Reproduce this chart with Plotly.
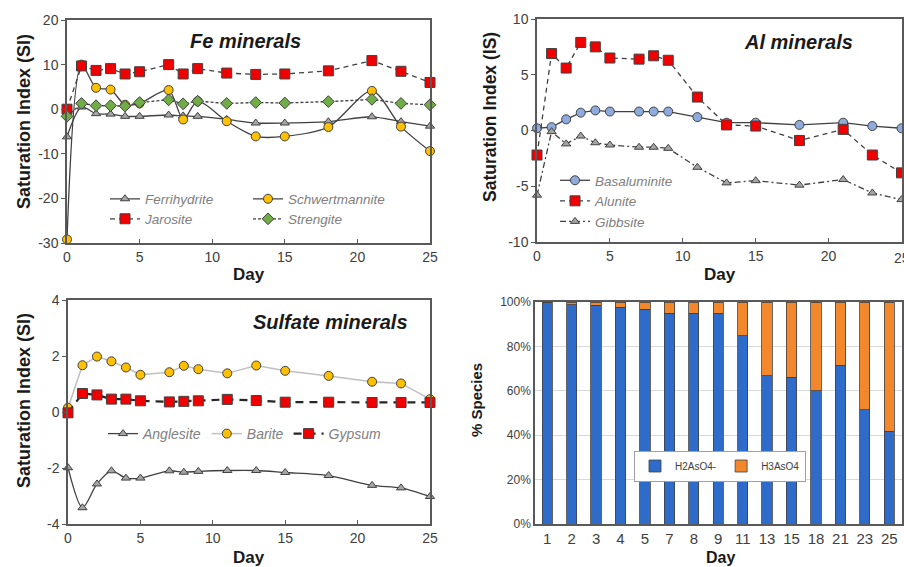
import plotly.graph_objects as go

# ---------------- data ----------------
days = [0, 1, 2, 3, 4, 5, 7, 8, 9, 11, 13, 15, 18, 21, 23, 25]

# Fe minerals
ferrihydrite = [-6.2, 0.5, -1.0, -1.1, -1.6, -1.6, -1.3, -1.5, -1.6, -2.3, -3.1, -3.1, -2.8, -1.7, -2.8, -3.8]
schwertmannite = [-29.2, 10.0, 4.8, 4.4, 1.0, 1.3, 4.3, -2.3, 1.8, -2.7, -6.1, -6.1, -4.0, 4.1, -3.9, -9.4]
jarosite = [0.0, 9.7, 8.7, 9.1, 7.9, 8.4, 10.0, 7.9, 9.1, 8.1, 7.8, 7.9, 8.6, 10.9, 8.5, 6.0]
strengite = [-1.6, 1.3, 0.8, 0.8, 0.7, 1.5, 2.1, 1.2, 1.8, 1.3, 1.5, 1.4, 1.7, 2.2, 1.3, 1.0]

# Al minerals
basaluminite = [0.2, 0.3, 1.0, 1.6, 1.8, 1.7, 1.7, 1.7, 1.7, 1.2, 0.7, 0.7, 0.5, 0.7, 0.4, 0.2]
alunite = [-2.2, 6.9, 5.6, 7.9, 7.5, 6.5, 6.4, 6.7, 6.3, 3.0, 0.5, 0.4, -0.9, 0.1, -2.2, -3.8]
gibbsite = [-5.8, -0.1, -1.2, -0.5, -1.1, -1.3, -1.5, -1.5, -1.6, -3.3, -4.7, -4.5, -4.9, -4.4, -5.6, -6.2]

# Sulfate minerals
anglesite = [-1.99, -3.42, -2.57, -2.10, -2.36, -2.36, -2.10, -2.15, -2.12, -2.09, -2.09, -2.16, -2.27, -2.62, -2.71, -3.02]
barite = [0.15, 1.67, 1.98, 1.81, 1.59, 1.33, 1.42, 1.65, 1.53, 1.38, 1.66, 1.47, 1.29, 1.08, 1.02, 0.46]
gypsum = [-0.03, 0.66, 0.61, 0.46, 0.46, 0.40, 0.36, 0.38, 0.40, 0.45, 0.41, 0.35, 0.35, 0.34, 0.34, 0.34]

# Arsenic speciation (%)
species_days = ["1", "2", "3", "4", "5", "7", "8", "9", "11", "13", "15", "18", "21", "23", "25"]
h2aso4 = [99.7, 98.8, 98.6, 97.7, 96.7, 95.0, 95.0, 95.0, 84.7, 66.8, 66.2, 60.1, 71.6, 51.5, 41.7]
h3aso4 = [0.3, 1.2, 1.4, 2.3, 3.3, 5.0, 5.0, 5.0, 15.3, 33.2, 33.8, 39.9, 28.4, 48.5, 58.3]

# tick labels (plain hyphen minus, as in the original)
fe_ticks = [-30, -20, -10, 0, 10, 20]
fe_ticktext = ["-30", "-20", "-10", "0", "10", "20"]
al_ticks = [-10, -5, 0, 5, 10]
al_ticktext = ["-10", "-5", "0", "5", "10"]
su_ticks = [-4, -2, 0, 2, 4]
su_ticktext = ["-4", "-2", "0", "2", "4"]
day_ticks = [0, 5, 10, 15, 20, 25]

# ---------------- styling ----------------
W, H = 904, 567
FONT = "Liberation Sans, Arial, sans-serif"
LINE = "#404040"
RED = "#f00000"
ORANGE = "#ffc000"
GREEN = "#70ad47"
GRAY = "#a5a5a5"
LBLUE = "#8faadc"
BLUE = "#2f6bc8"
BORANGE = "#f2872c"


def px_x(p):
    return p / W


def px_y(p):
    return 1 - p / H


def mk(symbol, color, size):
    return dict(symbol=symbol, color=color, size=size, line=dict(color=LINE, width=1))


fig = go.Figure()


def add_line(x, y, name, xa, ya, legend, lcolor, lwidth, dash, symbol, mcolor, msize, shape="linear"):
    fig.add_trace(go.Scatter(
        x=x, y=y, name=name, xaxis=xa, yaxis=ya, legend=legend,
        mode="lines+markers", cliponaxis=False,
        line=dict(color=lcolor, width=lwidth, dash=dash, shape=shape, smoothing=0.8),
        marker=mk(symbol, mcolor, msize),
    ))


# Fe panel
add_line(days, ferrihydrite, "Ferrihydrite", "x", "y", "legend", LINE, 1.3, "solid", "triangle-up", GRAY, 8, "spline")
add_line(days, schwertmannite, "Schwertmannite", "x", "y", "legend", LINE, 1.3, "solid", "circle", ORANGE, 9, "spline")
add_line(days, jarosite, "Jarosite", "x", "y", "legend2", LINE, 1.3, "5px,4px", "square", RED, 10)
add_line(days, strengite, "Strengite", "x", "y", "legend2", LINE, 1.3, "3px,2px", "diamond", GREEN, 9)

# Al panel
add_line(days, basaluminite, "Basaluminite", "x2", "y2", "legend3", LINE, 1.3, "solid", "circle", LBLUE, 9)
add_line(days, alunite, "Alunite", "x2", "y2", "legend3", LINE, 1.3, "5px,4px", "square", RED, 10)
add_line(days, gibbsite, "Gibbsite", "x2", "y2", "legend3", LINE, 1.3, "6px,3px,2px,3px", "triangle-up", GRAY, 8)

# Sulfate panel
add_line(days, anglesite, "Anglesite", "x3", "y3", "legend4", LINE, 1.3, "solid", "triangle-up", GRAY, 8, "spline")
add_line(days, barite, "Barite", "x3", "y3", "legend4", "#bfbfbf", 1.5, "solid", "circle", ORANGE, 9)
add_line(days, gypsum, "Gypsum", "x3", "y3", "legend4", "#262626", 2.2, "8px,6px", "square", RED, 10)

# Speciation bars
fig.add_trace(go.Bar(x=species_days, y=h2aso4, name="H2AsO4-", xaxis="x4", yaxis="y4", legend="legend5",
                     marker=dict(color=BLUE, line=dict(color="#404040", width=0.8))))
fig.add_trace(go.Bar(x=species_days, y=h3aso4, name="H3AsO4", xaxis="x4", yaxis="y4", legend="legend5",
                     marker=dict(color=BORANGE, line=dict(color="#404040", width=0.8))))

# ---------------- axes ----------------
axcommon = dict(showline=True, mirror=True, linecolor="#595959", linewidth=1.5, showgrid=False,
                zeroline=False, automargin=False,
                tickfont=dict(size=14, color="#404040", family=FONT), tickcolor="#595959")

doms = {
    "fe": ([67, 430], [20, 243]),
    "al": ([537, 901.5], [19, 242]),
    "su": ([68, 430], [300, 524]),
    "sp": ([535, 901.5], [302, 524]),
}


def xd(d):
    return [px_x(d[0][0]), px_x(d[0][1])]


def yd(d):
    return [px_y(d[1][1]), px_y(d[1][0])]


fig.update_layout(
    xaxis=dict(axcommon, domain=xd(doms["fe"]), anchor="y", range=[0, 25], tickvals=day_ticks,
               ticks="inside", ticklen=4),
    yaxis=dict(axcommon, domain=yd(doms["fe"]), anchor="x", range=[-30, 20], tickvals=fe_ticks,
               ticktext=fe_ticktext, ticks="outside", ticklen=4),
    xaxis2=dict(axcommon, domain=xd(doms["al"]), anchor="y2", range=[0, 25], tickvals=day_ticks,
                ticks="inside", ticklen=4),
    yaxis2=dict(axcommon, domain=yd(doms["al"]), anchor="x2", range=[-10, 10], tickvals=al_ticks,
                ticktext=al_ticktext, ticks="outside", ticklen=4),
    xaxis3=dict(axcommon, domain=xd(doms["su"]), anchor="y3", range=[0, 25], tickvals=day_ticks,
                ticks="inside", ticklen=4),
    yaxis3=dict(axcommon, domain=yd(doms["su"]), anchor="x3", range=[-4, 4], tickvals=su_ticks,
                ticktext=su_ticktext, ticks="outside", ticklen=4),
    xaxis4=dict(axcommon, domain=xd(doms["sp"]), anchor="y4", type="category",
                tickfont=dict(size=15, color="#404040", family=FONT)),
    yaxis4=dict(axcommon, domain=yd(doms["sp"]), anchor="x4", range=[0, 100], dtick=20, ticksuffix="%",
                showgrid=True, gridcolor="#d9d9d9", gridwidth=1,
                tickfont=dict(size=12, color="#404040", family=FONT)),
    barmode="stack",
    bargap=0.58,
)

# ---------------- legends ----------------
lfont = dict(family=FONT, size=13.5, color="#808080", style="italic")
fig.update_layout(
    legend=dict(orientation="h", x=px_x(105), y=px_y(199), xanchor="left", yanchor="middle",
                entrywidth=98, font=lfont, bgcolor="rgba(0,0,0,0)", traceorder="normal"),
    legend2=dict(orientation="h", x=px_x(105), y=px_y(219), xanchor="left", yanchor="middle",
                 entrywidth=98, font=lfont, bgcolor="rgba(0,0,0,0)", traceorder="normal"),
    legend3=dict(orientation="v", x=px_x(555), y=px_y(201), xanchor="left", yanchor="middle",
                 font=lfont, bgcolor="rgba(0,0,0,0)", traceorder="normal"),
    legend4=dict(orientation="h", x=px_x(103), y=px_y(434), xanchor="left", yanchor="middle",
                 font=dict(lfont, size=14), bgcolor="rgba(0,0,0,0)", traceorder="normal"),
    legend5=dict(orientation="h", x=px_x(720), y=px_y(466), xanchor="center", yanchor="middle",
                 font=dict(family=FONT, size=10, color="#404040"), bgcolor="white",
                 bordercolor="#a0a0a0", borderwidth=1, traceorder="normal"),
)

# ---------------- titles ----------------
ann = []


def text(x, y, s, size, bold=True, italic=False, angle=0, color="#1a1a1a"):
    t = s
    if bold:
        t = "<b>" + t + "</b>"
    if italic:
        t = "<i>" + t + "</i>"
    ann.append(dict(x=px_x(x), y=px_y(y), xref="paper", yref="paper", text=t, showarrow=False,
                    textangle=angle, xanchor="center", yanchor="middle",
                    font=dict(family=FONT, size=size, color=color)))


text(245, 41, "Fe minerals", 20, italic=True)
text(798, 42, "Al minerals", 20, italic=True)
text(330, 322, "Sulfate minerals", 20, italic=True)

text(249, 274, "Day", 17)
text(720, 274, "Day", 17)
text(249, 557, "Day", 17)
text(720, 557, "Day", 16)

text(24, 122, "Saturation Index (SI)", 18, angle=-90)
text(490, 117, "Saturation Index (IS)", 17.5, angle=-90)
text(24, 401, "Saturation Index (SI)", 18, angle=-90)
text(476, 400, "% Species", 15, angle=-90)

# last Al day tick label, which runs off the right edge of the page in the original
ann.append(dict(x=day_ticks[-1], y=0, xref="x2", yref="paper", yshift=px_y(258) * H - 0, text="25",
                showarrow=False, xanchor="center", yanchor="middle",
                font=dict(family=FONT, size=14, color="#404040")))

fig.update_layout(
    annotations=ann,
    width=W, height=H,
    margin=dict(l=0, r=0, t=0, b=0),
    paper_bgcolor="white", plot_bgcolor="white",
    font=dict(family=FONT),
)

fig.write_html("out.html")
